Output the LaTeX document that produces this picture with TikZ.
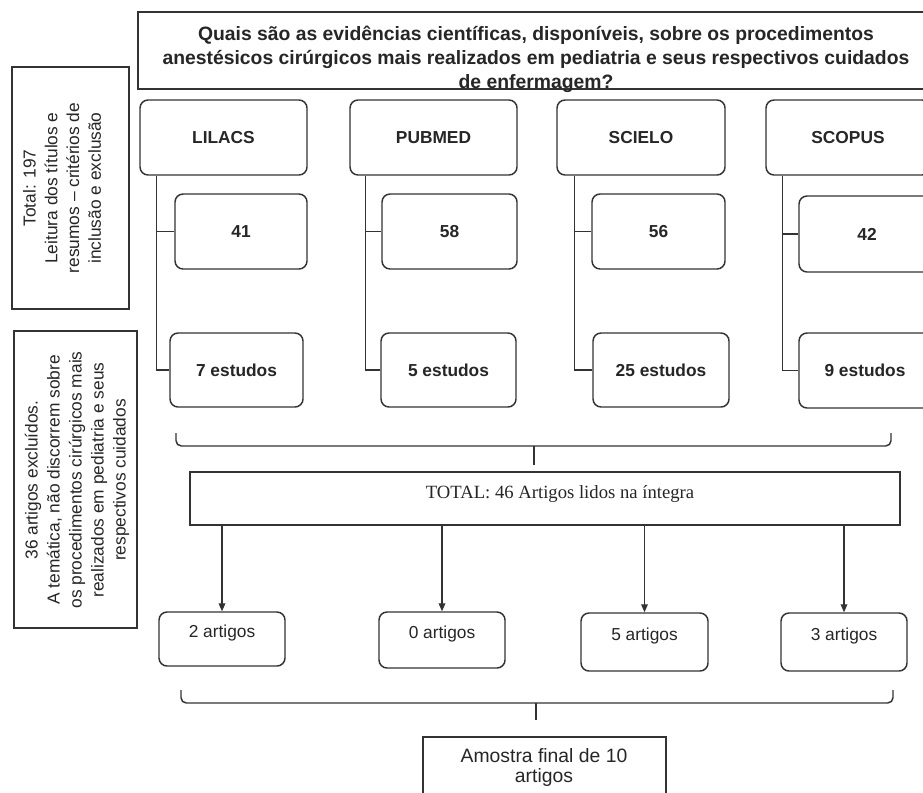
\documentclass[tikz,border=0pt]{standalone}
\usepackage{fontspec}
\setmainfont{Liberation Sans}
\newfontfamily\serifTNR{Liberation Serif}
\usetikzlibrary{fit,calc,arrows.meta}
\begin{document}
\begin{tikzpicture}[x=0.75pt,y=-0.75pt,
  line width=1.1pt,
  rbox/.style={draw=black!80, line width=1.1pt, rounded corners=6pt, inner sep=0pt},
  sbox/.style={draw=black!80, line width=1.1pt, inner sep=0pt},
  txt/.style={text=black!85, font=\fontsize{13}{16}\selectfont, align=center, inner sep=0pt},
  btxt/.style={txt, font=\bfseries\fontsize{13}{16}\selectfont},
  link/.style={draw=black!80, line width=1.1pt},
  arr/.style={draw=black!80, line width=1pt, -{Triangle[length=6pt,width=5pt]}},
]
\useasboundingbox (0,0) rectangle (923,792);
\fill[white] (0,0) rectangle (923,792);
\clip (0,0) rectangle (923,792);

% question
\node[sbox, fit={(138,12) (934,89)}] (q) {};
\node[btxt, font=\bfseries\fontsize{14.5}{18}\selectfont] (qt) at (536,59)
  {Quais são as evidências científicas, disponíveis, sobre os procedimentos\\
   anestésicos cirúrgicos mais realizados em pediatria e seus respectivos cuidados\\
   de enfermagem?};

% left boxes
\node[sbox, fit={(12,67) (129,309)}] (lb1) {};
\node[txt, rotate=90, font=\fontsize{13}{16.3}\selectfont] (lb1t) at (62,188)
  {Total: 197\\Leitura dos títulos e\\resumos – critérios de\\inclusão e exclusão};
\node[sbox, fit={(14,331) (137,628)}] (lb2) {};
\node[txt, rotate=90, font=\fontsize{13}{16.5}\selectfont] (lb2t) at (77,480)
  {36 artigos excluídos.\\A temática, não discorrem sobre\\os procedimentos cirúrgicos mais\\realizados em pediatria e seus\\respectivos cuidados};

% LILACS
\node[rbox, fit={(140,100) (307,175)}] (l0) {};
\node[btxt] (l0t) at (l0.center) {LILACS};
\node[rbox, fit={(175,194) (307,269)}] (l1) {};
\node[btxt] (l1t) at (l1.center) {41};
\node[rbox, fit={(170,333) (303,407)}] (l2) {};
\node[btxt] (l2t) at (l2.center) {7 estudos};
\draw[link] ($(l0.south west)+(17,0)$) |- (l1.west);
\draw[link] ($(l0.south west)+(17,0)$) |- (l2.west);

% PUBMED
\node[rbox, fit={(350,100) (517,175)}] (p0) {};
\node[btxt] (p0t) at (p0.center) {PUBMED};
\node[rbox, fit={(382,194) (517,269)}] (p1) {};
\node[btxt] (p1t) at (p1.center) {58};
\node[rbox, fit={(381,333) (516,407)}] (p2) {};
\node[btxt] (p2t) at (p2.center) {5 estudos};
\draw[link] ($(p0.south west)+(16,0)$) |- (p1.west);
\draw[link] ($(p0.south west)+(16,0)$) |- (p2.west);

% SCIELO
\node[rbox, fit={(557,100) (725,175)}] (c0) {};
\node[btxt] (c0t) at (c0.center) {SCIELO};
\node[rbox, fit={(592,194) (725,269)}] (c1) {};
\node[btxt] (c1t) at (c1.center) {56};
\node[rbox, fit={(593,333) (729,407)}] (c2) {};
\node[btxt] (c2t) at (c2.center) {25 estudos};
\draw[link] ($(c0.south west)+(18,0)$) |- (c1.west);
\draw[link] ($(c0.south west)+(18,0)$) |- (c2.west);

% SCOPUS
\node[rbox, fit={(766,100) (930,175)}] (s0) {};
\node[btxt] (s0t) at (s0.center) {SCOPUS};
\node[rbox, fit={(799,196) (935,272)}] (s1) {};
\node[btxt] (s1t) at (s1.center) {42};
\node[rbox, fit={(799,333) (931,408)}] (s2) {};
\node[btxt] (s2t) at (s2.center) {9 estudos};
\draw[link] ($(s0.south west)+(17,0)$) |- (s1.west);
\draw[link] ($(s0.south west)+(17,0)$) |- (s2.west);

% brace 1
\draw[link, rounded corners=4pt] (176,433) -- (176,446) -- (891,446) -- (891,433);
\coordinate (b1) at (534,446);
\coordinate (b1e) at (534,465);
\draw[link] (b1) -- (b1e);

% total
\node[sbox, fit={(190,472) (900,525)}] (tot) {};
\node[txt, font=\serifTNR\fontsize{14}{16}\selectfont] (tott) at (560,494) {TOTAL: 46 Artigos lidos na íntegra};

% result boxes
\node[rbox, fit={(159,612) (285,666)}] (r1) {};
\node[txt] (r1t) at ($(r1.center)+(0,-6)$) {2 artigos};
\node[rbox, fit={(379,612) (505,668)}] (r2) {};
\node[txt] (r2t) at ($(r2.center)+(0,-6)$) {0 artigos};
\node[rbox, fit={(581,613) (708,671)}] (r3) {};
\node[txt] (r3t) at ($(r3.center)+(0,-6)$) {5 artigos};
\node[rbox, fit={(781,613) (907,671)}] (r4) {};
\node[txt] (r4t) at ($(r4.center)+(0,-6)$) {3 artigos};

\draw[arr] (r1.north |- tot.south) -- (r1.north);
\draw[arr] (r2.north |- tot.south) -- (r2.north);
\draw[arr] (r3.north |- tot.south) -- (r3.north);
\draw[arr] (r4.north |- tot.south) -- (r4.north);

% brace 2
\draw[link, rounded corners=4pt] (181,690) -- (181,703) -- (893,703) -- (893,690);
\coordinate (b2) at (536,703);
\coordinate (b2e) at (536,720);
\draw[link] (b2) -- (b2e);

% final
\node[sbox, fit={(423,737) (666,805)}] (fin) {};
\node[txt, font=\fontsize{14.5}{15}\selectfont] (fint) at (544,767) {Amostra final de 10\\artigos};
\end{tikzpicture}
\end{document}
